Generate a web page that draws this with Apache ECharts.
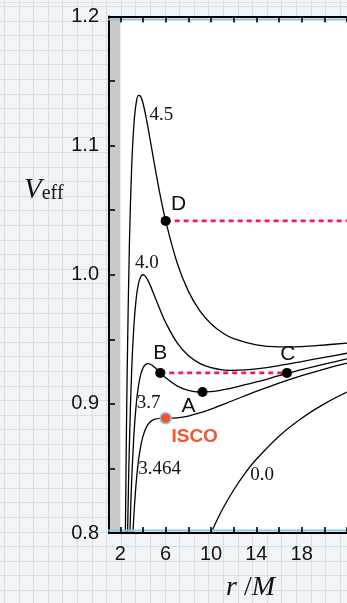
<!DOCTYPE html>
<html>
<head>
<meta charset="utf-8">
<script src="https://cdn.jsdelivr.net/npm/echarts@6/dist/echarts.min.js"></script>
<style>
  html, body { margin: 0; padding: 0; }
  body {
    width: 347px; height: 603px; overflow: hidden;
    background-color: #f3f4f6;
    background-image:
      repeating-linear-gradient(to right, #cfe2ee 0px, #cfe2ee 1px, transparent 1px, transparent 14.6px),
      repeating-linear-gradient(to bottom, #cfe2ee 0px, #cfe2ee 1px, transparent 1px, transparent 14.6px);
    background-position: 4px 6px;
  }
  #chart { width: 347px; height: 603px; }
</style>
</head>
<body>
<div id="chart"></div>
<script>
// Effective potential curves, one list of [r/M, V_eff] pairs per angular momentum
const curveL45 = [[2.3,0.6573],[2.4,0.7526],[2.5,0.848],[2.6,0.9221],[2.8,1.0237],[3.0,1.0833],[3.2,1.1166],[3.4,1.1331],[3.6,1.1389],[3.8,1.1380],[4.0,1.1328],[4.3,1.1207],[4.6,1.1061],[5.0,1.086],[5.5,1.0623],[6,1.0417],[7,1.0095],[8,0.9873],[9,0.9722],[10,0.962],[11,0.9551],[12,0.9505],[14,0.9457],[16,0.9442],[18,0.9444],[20,0.9456],[22,0.9471]];
const curveL40 = [[2.5,0.712],[2.6,0.777],[2.7,0.8283],[2.8,0.8688],[3.0,0.9259],[3.2,0.9609],[3.4,0.9817],[3.6,0.9931],[3.8,0.9985],[4.0,1.0],[4.2,0.9989],[4.5,0.9945],[5.0,0.984],[5.5,0.9730],[6,0.9630],[7,0.9475],[8,0.9375],[9,0.9314],[10,0.928],[11,0.9264],[12,0.9259],[13,0.9263],[14,0.9271],[16,0.9297],[18,0.9328],[20,0.936],[22,0.9392]];
const curveL37 = [[2.7,0.7410],[2.8,0.7846],[2.9,0.8155],[3.0,0.8404],[3.2,0.8763],[3.4,0.8994],[3.6,0.9139],[3.8,0.9228],[4.0,0.9278],[4.2,0.9303],[4.4,0.9312],[4.6,0.9309],[5.0,0.9286],[5.5,0.9244],[6,0.9202],[7,0.9139],[8,0.9104],[9,0.9092],[10,0.9095],[11,0.9108],[12,0.9126],[14,0.9170],[16,0.9218],[18,0.9265],[20,0.9308],[22,0.9348]];
const curveL3464 = [[2.9,0.7534],[3.0,0.7778],[3.1,0.7979],[3.2,0.8145],[3.4,0.8392],[3.6,0.8560],[3.8,0.8673],[4.0,0.875],[4.3,0.8820],[4.6,0.8858],[5.0,0.888],[5.5,0.8888],[6,0.8889],[7,0.8892],[8,0.8906],[9,0.8930],[10,0.896],[12,0.9028],[14,0.9096],[16,0.9160],[18,0.9218],[20,0.927],[22,0.9316]];
const curveL00 = [[9.5,0.7895],[10,0.8],[11,0.8182],[12,0.8333],[13,0.8462],[14,0.8571],[16,0.875],[18,0.8889],[20,0.9],[22,0.9091]];

const curveNames = ['4.5', '4.0', '3.7', '3.464', '0.0'];
const curves = [curveL45, curveL40, curveL37, curveL3464, curveL00];

// Marked orbit points and the innermost stable circular orbit
const pointNames = ['D', 'B', 'A', 'C'];
const pointR = [6, 5.52, 9.25, 16.7];
const pointV = [1.0417, 0.924, 0.9092, 0.924];
const iscoPoint = [6, 0.8889];
const iscoName = 'ISCO';

// Energy levels: unbound orbit from D outward, bound orbit between B and C
const levelD = [[6, 1.0417], [22, 1.0417]];
const levelBC = [[5.52, 0.924], [16.7, 0.924]];

// Region inside the horizon, r < 2M
const horizonBand = [1, 2];

// Axis ranges, tick positions and tick labels
const rRange = [1, 22];
const vRange = [0.8, 1.2];
const rTicks = [2, 4, 6, 8, 10, 12, 14, 16, 18, 20, 22];
const rLabels = [2, 6, 10, 14, 18];
const vTicks = [0.8, 0.85, 0.9, 0.95, 1.0, 1.05, 1.1, 1.15, 1.2];
const vLabels = [0.8, 0.9, 1.0, 1.1, 1.2];

// Where each curve's angular-momentum label sits, in data units
const curveLabelAnchors = [[5.62, 1.124], [4.35, 1.009], [4.5, 0.9005], [5.47, 0.8493], [14.52, 0.8446]];
const pointLabelOffsets = { D: [13, -17], B: [0, -20], A: [-14, 14], C: [1, -19] };

const SANS = 'Liberation Sans, Arial, Helvetica, sans-serif';
const SERIF = 'Liberation Serif, Times New Roman, serif';
const PINK = '#ec1a6c';

const chart = echarts.init(document.getElementById('chart'), null, { renderer: 'canvas' });

const axisLineBlack = (offsetY) => ({
  show: true,
  lineStyle: { color: '#000', width: 2, shadowColor: '#8ec3e6', shadowOffsetY: offsetY, shadowBlur: 0 }
});
const tickStyle = (values) => ({
  show: true, inside: true, length: 6, customValues: values,
  lineStyle: { color: '#000', width: 1.6 }
});

const curveSeries = curves.map((data, i) => ({
  type: 'line',
  name: 'L=' + curveNames[i],
  data: data,
  smooth: 0.35,
  symbol: 'none',
  clip: true,
  lineStyle: { color: '#000', width: 1.3 },
  z: 3,
  markArea: i === 0 ? {
    silent: true,
    itemStyle: { color: '#c9c9c9' },
    data: [[{ xAxis: horizonBand[0] }, { xAxis: horizonBand[1] }]]
  } : undefined
}));

const dashStyle = { color: PINK, width: 2.6, type: [5, 4] };

const option = {
  animation: false,
  grid: {
    left: 109, top: 16.5, width: 282, height: 516.5,
    show: true, backgroundColor: '#ffffff', borderWidth: 0
  },
  xAxis: [{
    type: 'value', min: rRange[0], max: rRange[1],
    position: 'bottom', z: 5,
    axisLine: axisLineBlack(-2.5),
    axisTick: tickStyle(rTicks),
    axisLabel: {
      show: true, margin: 11, color: '#111', fontSize: 20, fontFamily: SANS,
      customValues: rLabels, formatter: v => String(v)
    },
    splitLine: { show: false }
  }, {
    type: 'value', min: rRange[0], max: rRange[1],
    position: 'top', z: 5,
    axisLine: axisLineBlack(2.5),
    axisTick: tickStyle(rTicks),
    axisLabel: { show: false },
    splitLine: { show: false }
  }],
  yAxis: {
    type: 'value', min: vRange[0], max: vRange[1], z: 5,
    axisLine: { show: true, lineStyle: { color: '#000', width: 2 } },
    axisTick: tickStyle(vTicks),
    axisLabel: {
      show: true, margin: 10, color: '#111', fontSize: 20, fontFamily: SANS,
      customValues: vLabels, formatter: v => v.toFixed(1)
    },
    splitLine: { show: false }
  },
  graphic: [{
    type: 'text', left: 24, top: 176,
    style: {
      text: '{v|V}{s|eff}',
      rich: {
        v: { fontFamily: SERIF, fontStyle: 'italic', fontSize: 29, fill: '#111' },
        s: { fontFamily: SERIF, fontSize: 20, fill: '#111', padding: [6, 0, 0, 0] }
      }
    }
  }, {
    type: 'text', left: 226, top: 574,
    style: {
      text: '{i|r}{n| /}{i|M}',
      rich: {
        i: { fontFamily: SERIF, fontStyle: 'italic', fontSize: 28, fill: '#111' },
        n: { fontFamily: SERIF, fontSize: 28, fill: '#111' }
      }
    }
  }],
  series: [
    ...curveSeries,
    { type: 'line', name: 'levelD', data: levelD, symbol: 'none', lineStyle: dashStyle, z: 4 },
    { type: 'line', name: 'levelBC', data: levelBC, symbol: 'none', lineStyle: dashStyle, z: 4 },
    {
      type: 'scatter', name: 'points', symbol: 'circle', symbolSize: 10, z: 6,
      itemStyle: { color: '#000', opacity: 1 },
      data: pointNames.map((n, i) => ({
        name: n, value: [pointR[i], pointV[i]],
        label: { offset: pointLabelOffsets[n] }
      })),
      label: {
        show: true, position: 'inside', formatter: '{b}',
        color: '#111', fontSize: 21, fontFamily: SANS
      }
    },
    {
      type: 'scatter', name: 'isco', symbol: 'circle', symbolSize: 11, z: 6,
      itemStyle: { color: '#f2552b', borderColor: '#8ec3e6', borderWidth: 1.5, opacity: 1 },
      data: [{ name: iscoName, value: iscoPoint }],
      label: {
        show: true, position: 'inside', offset: [29, 19], formatter: '{b}',
        color: '#f2552b', fontSize: 19, fontWeight: 'bold', fontFamily: SANS
      }
    },
    {
      type: 'scatter', name: 'curveLabels', symbolSize: 0, z: 6,
      itemStyle: { opacity: 1 },
      data: curveNames.map((n, i) => ({ name: n, value: curveLabelAnchors[i] })),
      label: {
        show: true, position: 'inside', formatter: '{b}',
        color: '#111', fontSize: 19, fontFamily: SERIF
      }
    }
  ]
};

chart.setOption(option);
</script>
</body>
</html>
